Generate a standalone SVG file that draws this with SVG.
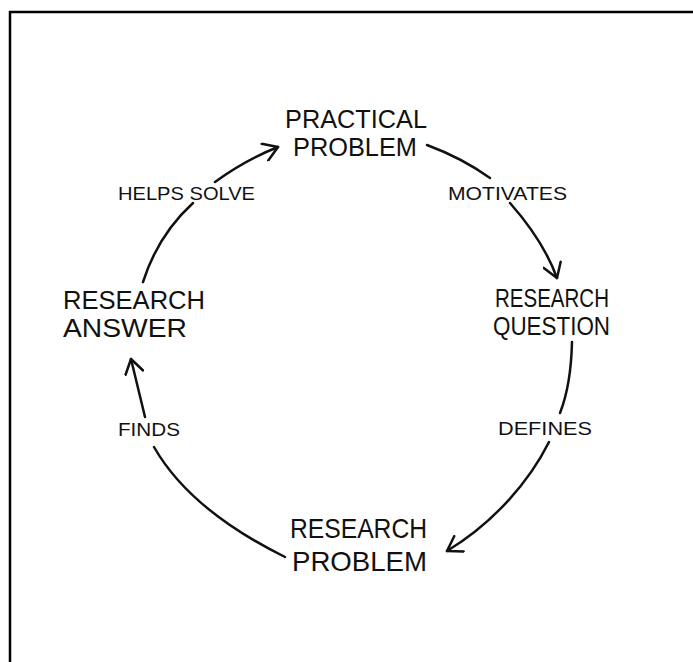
<svg xmlns="http://www.w3.org/2000/svg" width="693" height="662" viewBox="0 0 693 662">
<style>
  .node { font-family: "Liberation Sans", "DejaVu Sans", sans-serif; font-size: 25px; fill: #111; }
  .big { font-size: 28px; }
  .lbl { font-family: "Liberation Sans", "DejaVu Sans", sans-serif; font-size: 19px; fill: #111; }
  .edge { fill: none; stroke: #111; stroke-width: 2.5; stroke-linecap: round; }
  .frame { stroke: #000; stroke-width: 2.5; fill: none; }
</style>
<defs>
  <marker id="arrow" viewBox="0 0 20 20" refX="17" refY="10" markerWidth="20" markerHeight="20" markerUnits="userSpaceOnUse" orient="auto">
    <path d="M3,1 L17,10 L3,19" fill="none" stroke="#111" stroke-width="2.5" stroke-linecap="round" stroke-linejoin="round"/>
  </marker>
</defs>
<rect width="693" height="662" fill="#fff"/>
<g id="frame">
  <line class="frame" x1="9" y1="12" x2="693" y2="12"/>
  <line class="frame" x1="10" y1="11" x2="10" y2="662"/>
</g>
<g id="practical-problem">
  <text class="node" x="285" y="128" textLength="142" lengthAdjust="spacingAndGlyphs">PRACTICAL</text>
  <text class="node" x="293" y="156" textLength="124" lengthAdjust="spacingAndGlyphs">PROBLEM</text>
</g>
<g id="research-question">
  <text class="node" x="495" y="307" textLength="114" lengthAdjust="spacingAndGlyphs">RESEARCH</text>
  <text class="node" x="493" y="335" textLength="117" lengthAdjust="spacingAndGlyphs">QUESTION</text>
</g>
<g id="research-problem">
  <text class="node big" x="290" y="538" textLength="137" lengthAdjust="spacingAndGlyphs">RESEARCH</text>
  <text class="node big" x="292" y="571" textLength="135" lengthAdjust="spacingAndGlyphs">PROBLEM</text>
</g>
<g id="research-answer">
  <text class="node" x="63" y="309" textLength="142" lengthAdjust="spacingAndGlyphs">RESEARCH</text>
  <text class="node" x="63" y="337" textLength="124" lengthAdjust="spacingAndGlyphs">ANSWER</text>
</g>
<g id="connectors">
  <path class="edge" d="M427,145 Q462,158 490,178"/>
  <path class="edge" d="M510,203 C525,220 545,245 557,278" marker-end="url(#arrow)"/>
  <text class="lbl" x="448" y="200" textLength="119" lengthAdjust="spacingAndGlyphs">MOTIVATES</text>

  <path class="edge" d="M572,342 Q571,385 560,413"/>
  <path class="edge" d="M549,442 C530,480 495,522 447,551" marker-end="url(#arrow)"/>
  <text class="lbl" x="498" y="435" textLength="94" lengthAdjust="spacingAndGlyphs">DEFINES</text>

  <path class="edge" d="M285,557 Q190,510 154,447"/>
  <path class="edge" d="M145,417 Q139,392 131,359" marker-end="url(#arrow)"/>
  <text class="lbl" x="118" y="436" textLength="62" lengthAdjust="spacingAndGlyphs">FINDS</text>

  <path class="edge" d="M143,282 Q158,235 193,203"/>
  <path class="edge" d="M215,182 Q245,160 278,147" marker-end="url(#arrow)"/>
  <text class="lbl" x="118" y="200" textLength="137" lengthAdjust="spacingAndGlyphs">HELPS SOLVE</text>
</g>
</svg>
